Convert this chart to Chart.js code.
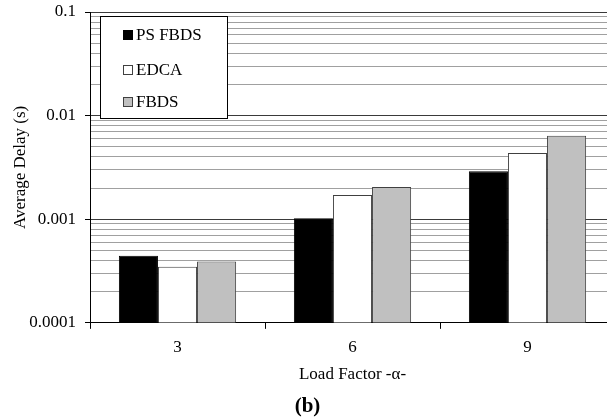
<!DOCTYPE html>
<html>
<head>
<meta charset="utf-8">
<script src="https://cdn.jsdelivr.net/npm/chart.js@4/dist/chart.umd.min.js"></script>
<style>
  html, body { margin: 0; padding: 0; background: #fff; overflow: hidden; }
  #wrap { width: 640px; height: 419px; }
</style>
</head>
<body>
<div id="wrap"><canvas id="c" width="640" height="419"></canvas></div>
<script>
// Load factors on the x axis
const categories = ['3', '6', '9'];

// Average delay (seconds) per scheme
const psFbds = [0.000445, 0.00102, 0.0029];
const edca   = [0.000348, 0.00171, 0.00436];
const fbds   = [0.00039,  0.00205, 0.0064];

// Labelled decades on the log axis and the minor multiples between them
const yMajorTicks  = [0.0001, 0.001, 0.01, 0.1];
const yTickLabels  = ['0.0001', '0.001', '0.01', '0.1'];
const yMinorSteps  = [2, 3, 4, 5, 6, 7, 8, 9];

const SERIF = '"Liberation Serif", "Times New Roman", serif';

function isMajor(v) {
  return yMajorTicks.some(m => Math.abs(v - m) / m < 1e-6);
}

// Boxed legend drawn inside the plot, top-left
const boxedLegend = {
  id: 'boxedLegend',
  afterDatasetsDraw(chart) {
    const ctx = chart.ctx;
    const x0 = 100, y0 = 16, w = 127, h = 102;
    ctx.save();
    ctx.fillStyle = '#fff';
    ctx.fillRect(x0, y0, w, h);
    ctx.strokeStyle = '#000';
    ctx.lineWidth = 1;
    ctx.strokeRect(x0 + 0.5, y0 + 0.5, w, h);
    ctx.font = '17px ' + SERIF;
    ctx.textBaseline = 'middle';
    ctx.textAlign = 'left';
    const rows = [35, 70, 102];
    chart.data.datasets.forEach((ds, i) => {
      const cy = rows[i];
      ctx.fillStyle = ds.backgroundColor;
      ctx.fillRect(123, cy - 5, 10, 10);
      ctx.strokeStyle = ds.borderColor;
      ctx.strokeRect(123.5, cy - 4.5, 9, 9);
      ctx.fillStyle = '#000';
      ctx.fillText(ds.label, 136, cy + 1);
    });
    ctx.restore();
  }
};

new Chart(document.getElementById('c'), {
  type: 'bar',
  data: {
    labels: categories,
    datasets: [
      { label: 'PS FBDS', data: psFbds, backgroundColor: '#000000', borderColor: '#000000', borderWidth: 1 },
      { label: 'EDCA',    data: edca,   backgroundColor: '#ffffff', borderColor: '#404040', borderWidth: 1 },
      { label: 'FBDS',    data: fbds,   backgroundColor: '#c0c0c0', borderColor: '#404040', borderWidth: 1 }
    ]
  },
  options: {
    responsive: false,
    animation: false,
    layout: { padding: { top: 12, right: 25, bottom: 0, left: 0 } },
    datasets: { bar: { categoryPercentage: 0.67, barPercentage: 1.0 } },
    plugins: {
      legend: { display: false },
      tooltip: { enabled: false },
      title: {
        display: true,
        position: 'bottom',
        text: '(b)',
        color: '#000',
        font: { family: SERIF, size: 21, weight: 'bold', lineHeight: 1.15 },
        padding: { top: 0, bottom: 0 }
      }
    },
    scales: {
      x: {
        type: 'category',
        offset: true,
        border: { display: true, color: '#000', width: 1 },
        grid: { offset: true, drawOnChartArea: false, drawTicks: true, tickLength: 6, color: '#000' },
        ticks: { color: '#000', font: { family: SERIF, size: 17 }, padding: 8 },
        title: {
          display: true,
          text: 'Load Factor -\u03b1-',
          color: '#000',
          font: { family: SERIF, size: 17 },
          padding: { top: 0, bottom: 10 }
        },
        afterFit(scale) { scale.height = 72; }
      },
      y: {
        type: 'logarithmic',
        min: 0.0001,
        max: 0.1,
        border: { display: true, color: '#000', width: 1 },
        afterBuildTicks(scale) {
          const ticks = [];
          yMajorTicks.forEach((m, i) => {
            ticks.push({ value: m, major: true });
            if (i < yMajorTicks.length - 1) {
              yMinorSteps.forEach(s => ticks.push({ value: m * s, major: false }));
            }
          });
          scale.ticks = ticks;
        },
        grid: {
          color: ctx => (ctx.tick && isMajor(ctx.tick.value)) ? '#3a3a3a' : '#a0a0a0',
          tickColor: ctx => (ctx.tick && isMajor(ctx.tick.value)) ? '#000' : 'rgba(0,0,0,0)',
          tickLength: 5,
          lineWidth: 1
        },
        ticks: {
          color: '#000',
          font: { family: SERIF, size: 17 },
          padding: 9,
          autoSkip: false,
          callback(value) {
            const i = yMajorTicks.findIndex(m => Math.abs(value - m) / m < 1e-6);
            return i >= 0 ? yTickLabels[i] : '';
          }
        },
        title: {
          display: true,
          text: 'Average Delay (s)',
          color: '#000',
          font: { family: SERIF, size: 17 },
          padding: { top: 10, bottom: 0 }
        },
        afterFit(scale) {
          scale.width = 90;
          scale.paddingTop = 0;
          scale.paddingBottom = 0;
        }
      }
    }
  },
  plugins: [boxedLegend]
});
</script>
</body>
</html>
